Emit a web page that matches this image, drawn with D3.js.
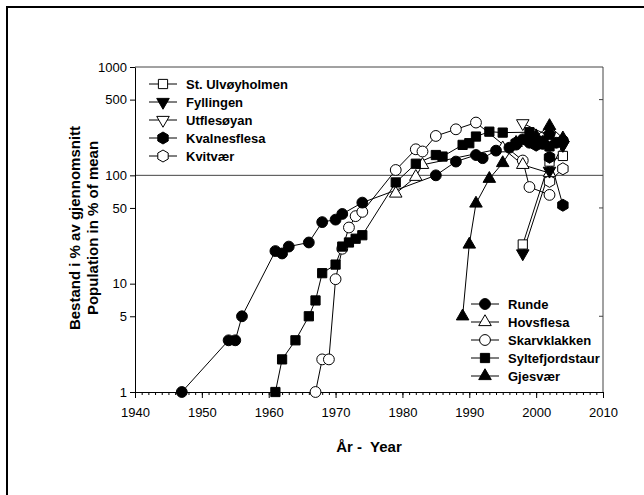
<!DOCTYPE html>
<html>
<head>
<meta charset="utf-8">
<script src="https://cdn.jsdelivr.net/npm/d3@7"></script>
<style>
  body { margin: 0; background: #fff; }
  text { font-family: Arial, "Liberation Sans", sans-serif; }
</style>
</head>
<body>
<div class="canvas"></div>
<script>
// data (percent of mean, log scale)
const rundeYears = [1947, 1954, 1955, 1956, 1961, 1962, 1963, 1966, 1968, 1970, 1971, 1974, 1985, 1988, 1991, 1992, 1994, 1996, 1997, 1998, 1999, 2000, 2001, 2002, 2003, 2004]
const rundeValues = [1, 3, 3, 5, 20, 19, 22, 24, 37, 39, 44, 56, 100, 134, 154, 144, 169, 180, 192, 215, 200, 205, 195, 240, 200, 210]

const hovsflesaYears = [1979, 1982, 1983, 1995, 1998, 2002]
const hovsflesaValues = [68, 97, 125, 178, 125, 105]

const skarvklakkenYears = [1967, 1968, 1969, 1970, 1971, 1972, 1973, 1974, 1979, 1982, 1983, 1985, 1988, 1991, 1998, 1999, 2002]
const skarvklakkenValues = [1, 2, 2, 11, 21, 33, 42, 46, 112, 174, 166, 231, 266, 307, 137, 78, 66]

const syltefjordYears = [1961, 1962, 1964, 1966, 1967, 1968, 1970, 1971, 1972, 1973, 1974, 1979, 1982, 1985, 1986, 1989, 1990, 1991, 1993, 1995, 1999, 2002]
const syltefjordValues = [1, 2, 3, 5, 7, 12.5, 15, 22, 24, 26, 28, 86, 128, 154, 149, 191, 198, 228, 253, 248, 250, 185]

const gjesvaerYears = [1989, 1990, 1991, 1993, 1995, 1997, 2000, 2002, 2004]
const gjesvaerValues = [5, 23, 55, 93, 130, 200, 230, 286, 220]

const ulvoyYears = [1998, 2002, 2004]
const ulvoyValues = [23, 134, 151]

const fyllingenYears = [1998, 2002, 2004]
const fyllingenValues = [19, 110, 190]

const utflesoyanYears = [1998, 2002, 2004]
const utflesoyanValues = [302, 230, 190]

const kvalnesYears = [1997, 1999, 2000, 2001, 2002, 2004]
const kvalnesValues = [200, 215, 190, 205, 147, 53]

const kvitvaerYears = [2002, 2004]
const kvitvaerValues = [88, 115]

const xTicks = [1940, 1950, 1960, 1970, 1980, 1990, 2000, 2010]
const yTicks = [1, 5, 10, 50, 100, 500, 1000]

const legendTop = ["St. Ulvøyholmen", "Fyllingen", "Utflesøyan", "Kvalnesflesa", "Kvitvær"]
const legendBottom = ["Runde", "Hovsflesa", "Skarvklakken", "Syltefjordstaur", "Gjesvær"]

const series = [
  { name: "Kvitvær", years: kvitvaerYears, values: kvitvaerValues, shape: "hexagon", fill: "#fff" },
  { name: "Skarvklakken", years: skarvklakkenYears, values: skarvklakkenValues, shape: "circle", fill: "#fff" },
  { name: "Hovsflesa", years: hovsflesaYears, values: hovsflesaValues, shape: "triangle", fill: "#fff" },
  { name: "Utflesøyan", years: utflesoyanYears, values: utflesoyanValues, shape: "down", fill: "#fff" },
  { name: "St. Ulvøyholmen", years: ulvoyYears, values: ulvoyValues, shape: "square", fill: "#fff" },
  { name: "Runde", years: rundeYears, values: rundeValues, shape: "circle", fill: "#000" },
  { name: "Syltefjordstaur", years: syltefjordYears, values: syltefjordValues, shape: "square", fill: "#000" },
  { name: "Gjesvær", years: gjesvaerYears, values: gjesvaerValues, shape: "triangle", fill: "#000" },
  { name: "Fyllingen", years: fyllingenYears, values: fyllingenValues, shape: "down", fill: "#000" },
  { name: "Kvalnesflesa", years: kvalnesYears, values: kvalnesValues, shape: "hexagon", fill: "#000" }
]
const byName = {}
series.forEach(s => byName[s.name] = s)

const svg = d3.select(".canvas")
  .append("svg")
  .attr("width", 644)
  .attr("height", 495)

// outer frame (cut off at right and bottom)
svg.append("rect")
  .attr("x", 7).attr("y", 7)
  .attr("width", 670).attr("height", 520)
  .attr("fill", "none")
  .attr("stroke", "#000")
  .attr("stroke-width", 2)

const x = d3.scaleLinear().domain([1940, 2010]).range([135, 603])
const y = d3.scaleLog().domain([1, 1000]).range([392, 67])

// frame lines top / right, reference line at 100
svg.append("line").attr("x1", x(1940)).attr("x2", x(2010)).attr("y1", y(1000)).attr("y2", y(1000))
  .attr("stroke", "#444")
svg.append("line").attr("x1", x(2010)).attr("x2", x(2010)).attr("y1", y(1000)).attr("y2", y(1))
  .attr("stroke", "#444")
svg.append("line").attr("x1", x(1940)).attr("x2", x(2010)).attr("y1", y(100)).attr("y2", y(100))
  .attr("stroke", "#444")
svg.selectAll(".rtick")
  .data([5, 50, 500])
  .enter()
  .append("line")
  .attr("x1", x(2010) - 4).attr("x2", x(2010))
  .attr("y1", d => y(d)).attr("y2", d => y(d))
  .attr("stroke", "#444")

// axes
const yAxis = svg.append("g")
  .attr("transform", `translate(${x(1940)},0)`)
  .call(d3.axisLeft(y).tickValues(yTicks).tickFormat(d => d).tickSize(5).tickSizeOuter(0).tickPadding(3))
yAxis.selectAll("text").attr("font-size", 13).attr("fill", "#000")

const xMinor = svg.append("g")
  .attr("transform", `translate(0,${y(1)})`)
  .call(d3.axisBottom(x).tickValues(d3.range(1940, 2011)).tickFormat("").tickSize(3).tickSizeOuter(0))
const xAxis = svg.append("g")
  .attr("transform", `translate(0,${y(1)})`)
  .call(d3.axisBottom(x).tickValues(xTicks).tickFormat(d3.format("d")).tickSize(6).tickSizeOuter(0).tickPadding(10))
xAxis.selectAll("text").attr("font-size", 13).attr("fill", "#000")
svg.selectAll(".domain").attr("stroke", "#000")

// axis titles
svg.append("text")
  .attr("x", 369).attr("y", 452)
  .attr("text-anchor", "middle")
  .attr("font-size", 15).attr("font-weight", "bold")
  .style("white-space", "pre")
  .text("År -  Year")
svg.append("text")
  .attr("transform", "translate(80,228) rotate(-90)")
  .attr("text-anchor", "middle")
  .attr("font-size", 15).attr("font-weight", "bold")
  .text("Bestand i % av gjennomsnitt")
svg.append("text")
  .attr("transform", "translate(98,228) rotate(-90)")
  .attr("text-anchor", "middle")
  .attr("font-size", 15).attr("font-weight", "bold")
  .text("Population in % of mean")

// marker paths
function markerPath(shape) {
  if (shape === "circle") return d3.symbol(d3.symbolCircle, 92)()
  if (shape === "square") return d3.symbol(d3.symbolSquare, 85)()
  if (shape === "triangle" || shape === "down") return d3.symbol(d3.symbolTriangle, 68)()
  const r = 6
  const pts = d3.range(6).map(i => {
    const a = -Math.PI / 2 + i * Math.PI / 3
    return [r * Math.cos(a), r * Math.sin(a)]
  })
  return "M" + pts.join("L") + "Z"
}
function drawMarker(g, s, px, py) {
  g.append("path")
    .attr("d", markerPath(s.shape))
    .attr("transform", `translate(${px},${py})` + (s.shape === "down" ? " rotate(180)" : ""))
    .attr("fill", s.fill)
    .attr("stroke", "#000")
    .attr("stroke-width", 1)
}

const line = d3.line().x(d => x(d[0])).y(d => y(d[1]))
const plot = svg.append("g")
series.forEach(s => {
  const pts = s.years.map((yr, i) => [yr, s.values[i]])
  plot.append("path")
    .attr("d", line(pts))
    .attr("fill", "none")
    .attr("stroke", "#000")
    .attr("stroke-width", 1)
})
series.forEach(s => {
  s.years.forEach((yr, i) => drawMarker(plot, s, x(yr), y(s.values[i])))
})

// legends
function legend(names, lx, ly) {
  const g = svg.append("g")
  names.forEach((n, i) => {
    const s = byName[n]
    const cy = ly + i * 18
    g.append("line")
      .attr("x1", lx - 14).attr("x2", lx + 14)
      .attr("y1", cy).attr("y2", cy)
      .attr("stroke", "#000")
    drawMarker(g, s, lx, cy)
    g.append("text")
      .attr("x", lx + 23).attr("y", cy + 5)
      .attr("font-size", 13).attr("font-weight", "bold")
      .text(n)
  })
}
legend(legendTop, 163, 84)
legend(legendBottom, 485, 304)
</script>
</body>
</html>
